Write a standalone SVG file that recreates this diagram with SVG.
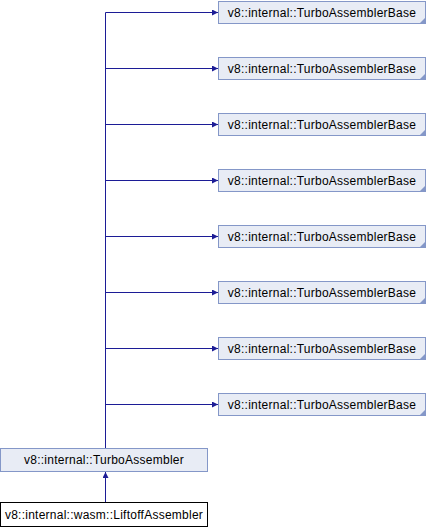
<svg xmlns="http://www.w3.org/2000/svg" width="426" height="528" viewBox="0 0 426 528">
<style>
.base rect{fill:#e8ecf5;stroke:#8497c8;stroke-width:1}
.base path{fill:#8497c8}
text{font-family:"Liberation Sans",Arial,sans-serif;font-size:12px;letter-spacing:0.25px;fill:#000;text-anchor:middle}
.edge{fill:none;stroke:#1c1c96;stroke-width:1}
</style>
<defs>
<marker id="ah" markerWidth="6" markerHeight="6" refX="6" refY="3" orient="auto" markerUnits="userSpaceOnUse">
<path d="M0,0 L6,3 L0,6 Z" fill="#1c1c96"/>
</marker>
</defs>
<g id="connectors">
<path class="edge" d="M105.5,448 V12.5"/>
<path class="edge" d="M105.5,12.5 H218" marker-end="url(#ah)"/>
<path class="edge" d="M105.5,68.5 H218" marker-end="url(#ah)"/>
<path class="edge" d="M105.5,124.5 H218" marker-end="url(#ah)"/>
<path class="edge" d="M105.5,180.5 H218" marker-end="url(#ah)"/>
<path class="edge" d="M105.5,236.5 H218" marker-end="url(#ah)"/>
<path class="edge" d="M105.5,292.5 H218" marker-end="url(#ah)"/>
<path class="edge" d="M105.5,348.5 H218" marker-end="url(#ah)"/>
<path class="edge" d="M105.5,404.5 H218" marker-end="url(#ah)"/>
<path class="edge" d="M105.5,502 V472" marker-end="url(#ah)"/>
</g>
<g id="base1" class="base"><rect x="218.5" y="1.5" width="207" height="22"/><path d="M425,18 V23 H420 Z"/><text x="322" y="16.5">v8::internal::TurboAssemblerBase</text></g>
<g id="base2" class="base"><rect x="218.5" y="57.5" width="207" height="22"/><path d="M425,74 V79 H420 Z"/><text x="322" y="72.5">v8::internal::TurboAssemblerBase</text></g>
<g id="base3" class="base"><rect x="218.5" y="113.5" width="207" height="22"/><path d="M425,130 V135 H420 Z"/><text x="322" y="128.5">v8::internal::TurboAssemblerBase</text></g>
<g id="base4" class="base"><rect x="218.5" y="169.5" width="207" height="22"/><path d="M425,186 V191 H420 Z"/><text x="322" y="184.5">v8::internal::TurboAssemblerBase</text></g>
<g id="base5" class="base"><rect x="218.5" y="225.5" width="207" height="22"/><path d="M425,242 V247 H420 Z"/><text x="322" y="240.5">v8::internal::TurboAssemblerBase</text></g>
<g id="base6" class="base"><rect x="218.5" y="281.5" width="207" height="22"/><path d="M425,298 V303 H420 Z"/><text x="322" y="296.5">v8::internal::TurboAssemblerBase</text></g>
<g id="base7" class="base"><rect x="218.5" y="337.5" width="207" height="22"/><path d="M425,354 V359 H420 Z"/><text x="322" y="352.5">v8::internal::TurboAssemblerBase</text></g>
<g id="base8" class="base"><rect x="218.5" y="393.5" width="207" height="22"/><path d="M425,410 V415 H420 Z"/><text x="322" y="408.5">v8::internal::TurboAssemblerBase</text></g>
<g id="turbo" class="base"><rect x="0.5" y="448.5" width="207" height="23"/><text x="104" y="464">v8::internal::TurboAssembler</text></g>
<g id="liftoff"><rect x="0.5" y="502.5" width="207" height="24" fill="#fff" stroke="#000"/><text x="104" y="519">v8::internal::wasm::LiftoffAssembler</text></g>
</svg>
